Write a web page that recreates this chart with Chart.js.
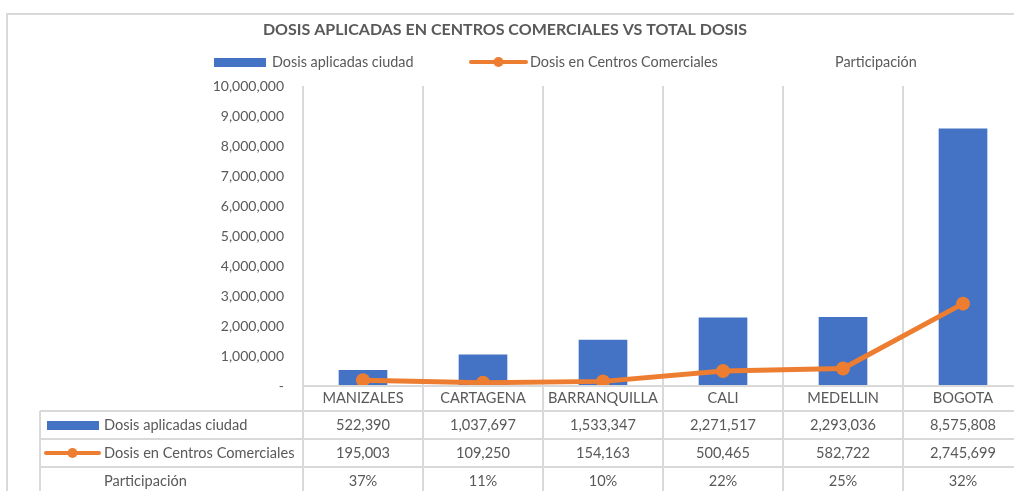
<!DOCTYPE html>
<html>
<head>
<meta charset="utf-8">
<script src="https://cdn.jsdelivr.net/npm/chart.js@4.4.0/dist/chart.umd.min.js"></script>
<style>
    html, body { margin: 0; padding: 0; background: #fff; overflow: hidden; }
    #wrap { position: absolute; left: 0; top: 0; width: 1040px; height: 491px; }
</style>
</head>
<body>
<div id="wrap"><canvas id="dosisChart" width="1040" height="491"></canvas></div>
<script>
const ciudades = ['MANIZALES', 'CARTAGENA', 'BARRANQUILLA', 'CALI', 'MEDELLIN', 'BOGOTA'];
const dosisCiudad = [522390, 1037697, 1533347, 2271517, 2293036, 8575808];
const dosisCentros = [195003, 109250, 154163, 500465, 582722, 2745699];
const participacion = [0.37, 0.11, 0.10, 0.22, 0.25, 0.32];
const yTicks = [0, 1000000, 2000000, 3000000, 4000000, 5000000, 6000000, 7000000, 8000000, 9000000, 10000000];

const AZUL = '#4472C4';
const NARANJA = '#ED7D31';
const GRIS = '#595959';
const LINEA = '#d9d9d9';
const FUENTE = 'Lato';

const fmt = v => v.toLocaleString('en-US');

function keyBarra(ctx, x1, x2, y1, y2) {
    ctx.fillStyle = AZUL;
    ctx.fillRect(x1, y1, x2 - x1, y2 - y1);
}

function keyLinea(ctx, x1, x2, y, r) {
    ctx.strokeStyle = NARANJA;
    ctx.lineWidth = 4;
    ctx.lineCap = 'round';
    ctx.beginPath();
    ctx.moveTo(x1, y);
    ctx.lineTo(x2, y);
    ctx.stroke();
    ctx.fillStyle = NARANJA;
    ctx.beginPath();
    ctx.arc((x1 + x2) / 2, y, r, 0, Math.PI * 2);
    ctx.fill();
}

// titulo, leyenda y tabla de datos como en Excel
const tablaPlugin = {
    id: 'tabla',
    afterDraw(chart) {
        const ctx = chart.ctx;
        const xs = chart.scales.x;
        const area = chart.chartArea;
        const labelTop = area.bottom;
        const rowsTop = labelTop + 25;
        const rowH = 28;
        const tableLeft = 40;
        const textX = 104;
        const half = (xs.getPixelForValue(1) - xs.getPixelForValue(0)) / 2;

        ctx.save();

        // borde del grafico
        ctx.strokeStyle = LINEA;
        ctx.lineWidth = 2;
        ctx.strokeRect(7, 14, 2000, 2000);

        // titulo
        ctx.fillStyle = GRIS;
        ctx.font = 'bold 16px ' + FUENTE;
        ctx.textAlign = 'center';
        ctx.textBaseline = 'middle';
        ctx.fillText('DOSIS APLICADAS EN CENTROS COMERCIALES VS TOTAL DOSIS', 505, 30);

        // leyenda
        ctx.font = '14.4px ' + FUENTE;
        ctx.textAlign = 'left';
        keyBarra(ctx, 214, 266, 58, 67);
        ctx.fillStyle = GRIS;
        ctx.fillText('Dosis aplicadas ciudad', 272, 62);
        keyLinea(ctx, 471, 526, 62, 5);
        ctx.fillStyle = GRIS;
        ctx.fillText('Dosis en Centros Comerciales', 530, 62);
        ctx.fillText('Participación', 835, 62);

        // lineas de la tabla
        ctx.strokeStyle = LINEA;
        ctx.lineWidth = 2;
        ctx.lineCap = 'butt';
        ctx.beginPath();
        ctx.moveTo(area.left, labelTop);
        ctx.lineTo(area.right, labelTop);
        for (let r = 0; r < 3; r++) {
            const y = rowsTop + r * rowH;
            ctx.moveTo(tableLeft, y);
            ctx.lineTo(area.right, y);
        }
        ctx.moveTo(tableLeft, rowsTop);
        ctx.lineTo(tableLeft, chart.height);
        for (let i = 0; i <= ciudades.length; i++) {
            const gx = i < ciudades.length ? xs.getPixelForValue(i) - half : xs.getPixelForValue(i - 1) + half;
            ctx.moveTo(gx, labelTop);
            ctx.lineTo(gx, chart.height);
        }
        ctx.stroke();

        // textos de la tabla
        ctx.fillStyle = GRIS;
        ctx.font = '14.6px ' + FUENTE;
        ctx.textAlign = 'center';
        ciudades.forEach((c, i) => {
            const cx = xs.getPixelForValue(i);
            ctx.fillText(c, cx, labelTop + 12.5);
            ctx.fillText(fmt(dosisCiudad[i]), cx, rowsTop + rowH * 0.5);
            ctx.fillText(fmt(dosisCentros[i]), cx, rowsTop + rowH * 1.5);
            ctx.fillText(Math.round(participacion[i] * 100) + '%', cx, rowsTop + rowH * 2.5);
        });

        ctx.textAlign = 'left';
        ctx.fillText('Dosis aplicadas ciudad', textX, rowsTop + rowH * 0.5);
        ctx.fillText('Dosis en Centros Comerciales', textX, rowsTop + rowH * 1.5);
        ctx.fillText('Participación', textX, rowsTop + rowH * 2.5);
        keyBarra(ctx, 47, 99, rowsTop + 10, rowsTop + 19);
        keyLinea(ctx, 46, 99, rowsTop + rowH * 1.5, 5);

        ctx.restore();
    }
};

const chart = new Chart(document.getElementById('dosisChart'), {
    type: 'bar',
    data: {
        labels: ciudades,
        datasets: [{
            type: 'line',
            label: 'Dosis en Centros Comerciales',
            data: dosisCentros,
            borderColor: NARANJA,
            backgroundColor: NARANJA,
            borderWidth: 5,
            pointRadius: 7,
            pointBorderWidth: 0,
            pointBackgroundColor: NARANJA,
            borderJoinStyle: 'round',
            order: 0
        }, {
            label: 'Dosis aplicadas ciudad',
            data: dosisCiudad,
            backgroundColor: AZUL,
            barThickness: 48,
            order: 1
        }]
    },
    options: {
        responsive: false,
        animation: false,
        layout: { padding: { top: 86, right: 17, left: 0, bottom: 0 } },
        plugins: {
            legend: { display: false },
            title: { display: false },
            tooltip: { enabled: false }
        },
        scales: {
            x: {
                offset: true,
                grid: { display: true, offset: true, color: LINEA, lineWidth: 2, drawTicks: false },
                border: { display: false },
                ticks: { display: false },
                afterFit: s => { s.height = 105; }
            },
            y: {
                min: 0,
                max: 10000000,
                grid: { display: false, drawTicks: false },
                border: { display: false },
                afterBuildTicks: s => { s.ticks = yTicks.map(v => ({ value: v })); },
                afterFit: s => { s.width = 303; },
                ticks: {
                    padding: 19,
                    color: GRIS,
                    font: { family: FUENTE, size: 14 },
                    callback: v => v === 0 ? '-' : fmt(v)
                }
            }
        }
    },
    plugins: [tablaPlugin]
});
</script>
</body>
</html>
